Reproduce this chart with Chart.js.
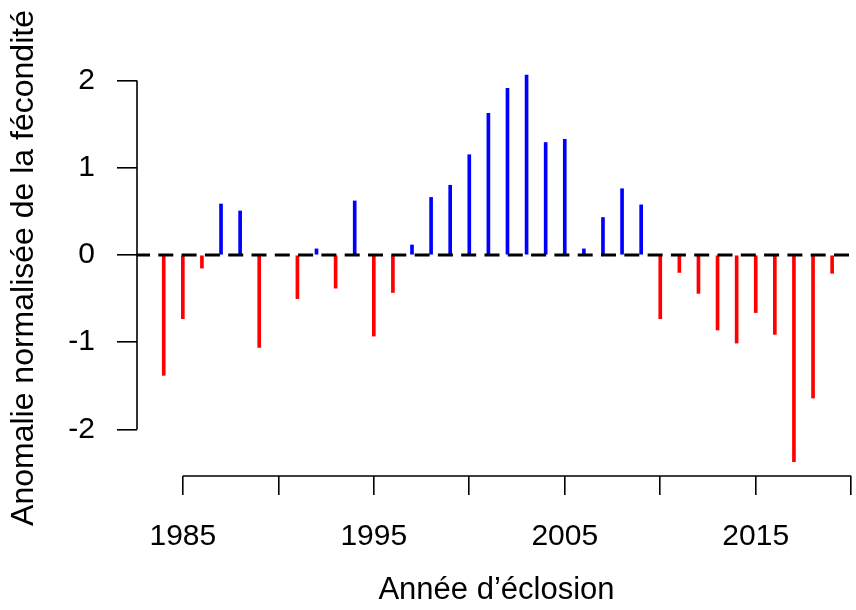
<!DOCTYPE html>
<html>
<head>
<meta charset="utf-8">
<script src="https://cdn.jsdelivr.net/npm/chart.js@4/dist/chart.umd.min.js"></script>
<style>
  html, body { margin: 0; padding: 0; background: #ffffff; }
  canvas { display: block; }
</style>
</head>
<body>
<canvas id="chart" width="856" height="610"></canvas>
<script>
// Hatch years and normalised fecundity anomaly for each year
const years = [
  1984, 1985, 1986, 1987, 1988, 1989, 1990, 1991, 1992, 1993, 1994, 1995,
  1996, 1997, 1998, 1999, 2000, 2001, 2002, 2003, 2004, 2005, 2006, 2007,
  2008, 2009, 2010, 2011, 2012, 2013, 2014, 2015, 2016, 2017, 2018, 2019
];
const anomalies = [
  -1.38, -0.73, -0.15, 0.585, 0.505, -1.06, 0, -0.50, 0.07, -0.38, 0.62, -0.93,
  -0.43, 0.115, 0.66, 0.80, 1.15, 1.625, 1.91, 2.064, 1.29, 1.327, 0.07, 0.43,
  0.76, 0.575, -0.73, -0.20, -0.44, -0.86, -1.01, -0.66, -0.91, -2.37, -1.64, -0.21
];

// Axis ticks and which x ticks carry a label
const xTicks = [1985, 1990, 1995, 2000, 2005, 2010, 2015, 2020];
const xLabelled = [1985, 1995, 2005, 2015];
const yTicks = [-2, -1, 0, 1, 2];

const FONT = "'Liberation Sans', Arial, Helvetica, sans-serif";

const points = years.map((y, i) => ({ x: y, y: anomalies[i] }));

// Axis lines running only from the first to the last tick, plus the dashed zero line
const axisLines = {
  id: 'axisLines',
  afterDatasetsDraw(chart) {
    const { ctx, chartArea, scales } = chart;
    const xs = scales.x, ys = scales.y;
    ctx.save();
    // zero reference line
    const y0 = ys.getPixelForValue(0);
    ctx.strokeStyle = '#000000';
    ctx.lineWidth = 3;
    ctx.setLineDash([15, 8.3]);
    ctx.lineDashOffset = 2;
    ctx.beginPath();
    ctx.moveTo(chartArea.left, y0);
    ctx.lineTo(chartArea.right, y0);
    ctx.stroke();
    ctx.setLineDash([]);
    // axes
    ctx.lineWidth = 1.6;
    ctx.beginPath();
    const yb = chartArea.bottom;
    ctx.moveTo(xs.getPixelForValue(xTicks[0]), yb);
    ctx.lineTo(xs.getPixelForValue(xTicks[xTicks.length - 1]), yb);
    const xl = chartArea.left;
    ctx.moveTo(xl, ys.getPixelForValue(yTicks[0]));
    ctx.lineTo(xl, ys.getPixelForValue(yTicks[yTicks.length - 1]));
    ctx.stroke();
    ctx.restore();
  }
};

new Chart(document.getElementById('chart'), {
  type: 'bar',
  data: {
    datasets: [{
      data: points,
      backgroundColor: ctx => (ctx.raw && ctx.raw.y < 0 ? '#ff0000' : '#0000ff'),
      borderWidth: 0,
      barThickness: 3,
      grouped: false
    }]
  },
  options: {
    responsive: false,
    animation: false,
    layout: { padding: { top: 60, right: 0, bottom: 0, left: 0 } },
    plugins: {
      legend: { display: false },
      tooltip: { enabled: false }
    },
    scales: {
      x: {
        type: 'linear',
        offset: false,
        min: 1982.6,
        max: 2020.25,
        afterBuildTicks: s => { s.ticks = xTicks.map(v => ({ value: v })); },
        afterFit: s => { s.height = 134; s.paddingLeft = 0; s.paddingRight = 0; },
        border: { display: false },
        grid: {
          offset: false,
          drawOnChartArea: false,
          drawTicks: true,
          tickLength: 19,
          color: '#000000',
          lineWidth: 1.6
        },
        ticks: {
          autoSkip: false,
          maxRotation: 0,
          padding: 24,
          color: '#000000',
          font: { family: FONT, size: 30 },
          callback: v => (xLabelled.includes(v) ? String(v) : '')
        },
        title: {
          display: true,
          text: 'Année d’éclosion',
          color: '#000000',
          font: { family: FONT, size: 31 },
          padding: { top: 0, bottom: 1 }
        }
      },
      y: {
        min: -2.534,
        max: 2.236,
        afterBuildTicks: s => { s.ticks = yTicks.map(v => ({ value: v })); },
        afterFit: s => { s.width = 137; s.paddingTop = 0; s.paddingBottom = 0; },
        border: { display: false },
        grid: {
          drawOnChartArea: false,
          drawTicks: true,
          tickLength: 20,
          color: '#000000',
          lineWidth: 1.6
        },
        ticks: {
          padding: 22,
          color: '#000000',
          font: { family: FONT, size: 30 },
          callback: v => String(v)
        },
        title: {
          display: true,
          text: 'Anomalie normalisée de la fécondité',
          color: '#000000',
          font: { family: FONT, size: 32 },
          padding: { top: 5, bottom: 0 }
        }
      }
    }
  },
  plugins: [axisLines]
});
</script>
</body>
</html>
